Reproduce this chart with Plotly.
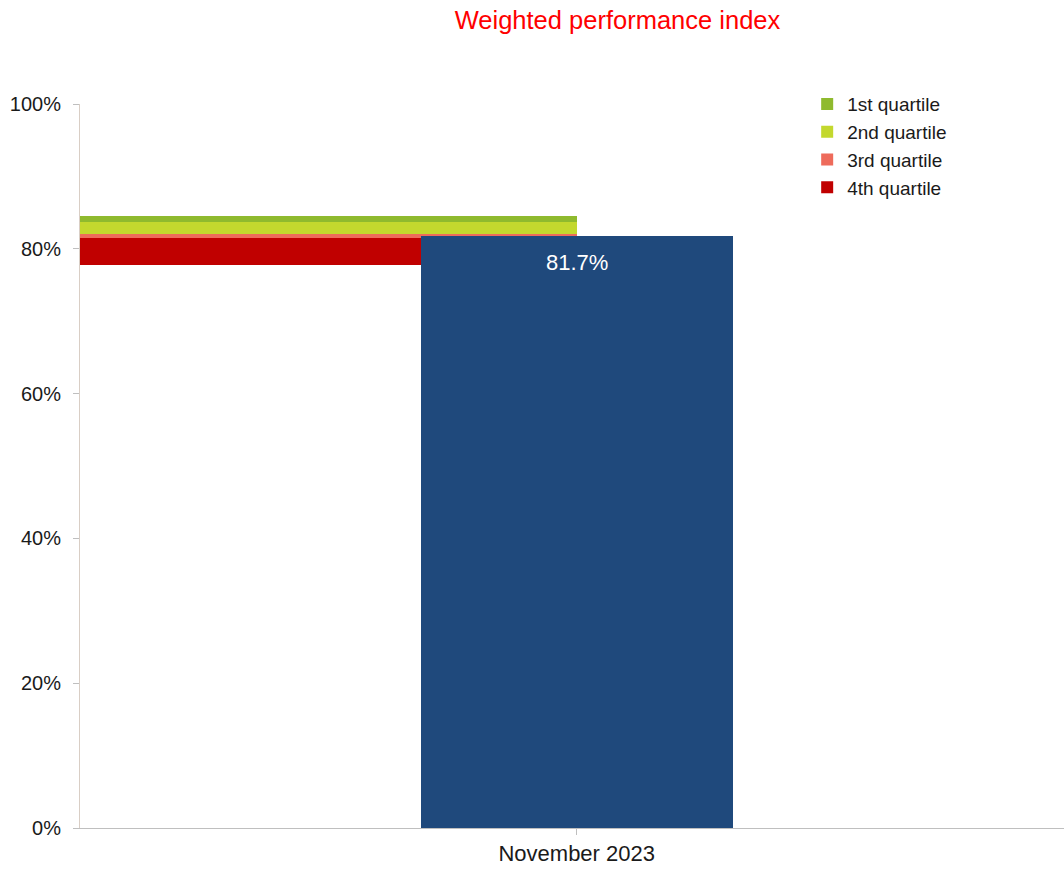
import plotly.graph_objects as go

# Category and measured value
categories = ["November 2023"]
index_values = [81.7]

# Quartile bands: lower edge of the 4th quartile, then band thicknesses
quartile_names = ["4th quartile", "3rd quartile", "2nd quartile", "1st quartile"]
quartile_floor = 77.7
quartile_heights = [3.8, 0.6, 1.6, 0.9]
quartile_colors = ["#C00000", "#EE6B5B", "#C3D82E", "#8FBA2E"]

bar_color = "#1F497C"
font_family = "Liberation Sans, Arial, sans-serif"

fig = go.Figure()

# Stack the bands by hand with explicit bases, spanning from the left edge to the category centre
base = quartile_floor
for name, h, c in zip(quartile_names, quartile_heights, quartile_colors):
    fig.add_trace(go.Bar(
        x=[-0.25], y=[h], base=[base], width=[0.5],
        name=name, marker=dict(color=c, line=dict(width=0)),
        hoverinfo="skip",
    ))
    base += h

# Main index bar, drawn on top of the bands
fig.add_trace(go.Bar(
    x=[0], y=index_values, width=[0.314],
    marker=dict(color=bar_color, line=dict(width=0)),
    showlegend=False, name=categories[0],
))

# Value label just below the bar top
for v in index_values:
    fig.add_annotation(
        x=0, y=v, xref="x", yref="y", text=f"{v:.1f}%",
        showarrow=False, yanchor="top", yshift=-12,
        font=dict(family=font_family, size=22, color="white"),
    )

fig.update_layout(
    width=1064, height=871,
    margin=dict(l=80, r=0, t=104, b=43),
    paper_bgcolor="white", plot_bgcolor="white",
    barmode="overlay", bargap=0,
    font=dict(family=font_family, color="#1a1a1a"),
    title=dict(
        text="Weighted performance index",
        x=617.5 / 1064, xanchor="center", xref="container",
        y=1 - 20 / 871, yanchor="middle", yref="container",
        font=dict(family=font_family, size=25.5, color="#FF0000"),
    ),
    legend=dict(
        x=0.739, xanchor="left", y=1.026, yanchor="top",
        traceorder="reversed",
        font=dict(family=font_family, size=19, color="#1a1a1a"),
        bgcolor="rgba(0,0,0,0)", itemwidth=30,
    ),
    xaxis=dict(
        range=[-0.5, 0.4905], tickmode="array", tickvals=[0], ticktext=categories,
        showline=True, linecolor="#BFBFBF", linewidth=1,
        ticks="outside", ticklen=6, tickcolor="#BFBFBF",
        showgrid=False, zeroline=False,
        tickfont=dict(family=font_family, size=22, color="#1a1a1a"),
    ),
    yaxis=dict(
        range=[0, 100], dtick=20, ticksuffix="%",
        showline=True, linecolor="#D9CEC5", linewidth=1,
        ticks="outside", ticklen=6, tickcolor="#BFBFBF",
        showgrid=False, zeroline=False, ticklabelstandoff=8,
        tickfont=dict(family=font_family, size=20, color="#1a1a1a"),
    ),
)

fig.write_html("out.html")
